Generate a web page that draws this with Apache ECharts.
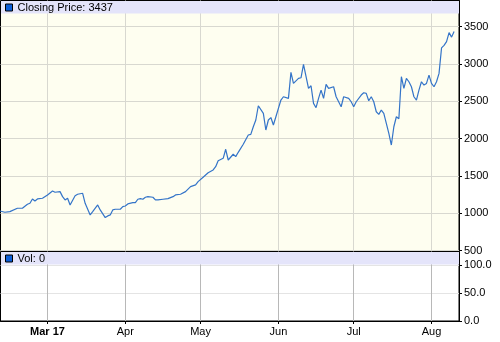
<!DOCTYPE html>
<html><head><meta charset="utf-8">
<script src="https://cdn.jsdelivr.net/npm/echarts@6.0.0/dist/echarts.min.js"></script>
<style>html,body{margin:0;padding:0;background:#fff}#c{width:500px;height:342px}</style>
</head><body><div id="c"></div>
<script>
const dates = [
'2017-02-10','2017-02-12','2017-02-14','2017-02-17','2017-02-19','2017-02-21','2017-02-22','2017-02-23','2017-02-24','2017-02-25','2017-02-27',
'2017-03-01','2017-03-03','2017-03-04','2017-03-06','2017-03-07','2017-03-08','2017-03-09','2017-03-10','2017-03-12','2017-03-13','2017-03-15','2017-03-16','2017-03-18','2017-03-19','2017-03-21','2017-03-22','2017-03-24','2017-03-25','2017-03-26','2017-03-27','2017-03-28','2017-03-30','2017-03-31',
'2017-04-01','2017-04-02','2017-04-04','2017-04-05','2017-04-06','2017-04-07','2017-04-08','2017-04-09','2017-04-10','2017-04-12','2017-04-13','2017-04-14','2017-04-16','2017-04-18','2017-04-20','2017-04-21','2017-04-23','2017-04-25','2017-04-27','2017-04-29','2017-04-30',
'2017-05-02','2017-05-04','2017-05-06','2017-05-07','2017-05-08','2017-05-10','2017-05-11','2017-05-12','2017-05-14','2017-05-15','2017-05-16','2017-05-18','2017-05-20','2017-05-21','2017-05-22','2017-05-23','2017-05-24','2017-05-26','2017-05-27','2017-05-28','2017-05-29','2017-05-30','2017-05-31',
'2017-06-01','2017-06-02','2017-06-03','2017-06-05','2017-06-06','2017-06-07','2017-06-09','2017-06-10','2017-06-11','2017-06-13','2017-06-14','2017-06-15','2017-06-16','2017-06-17','2017-06-18','2017-06-19','2017-06-20','2017-06-21','2017-06-23','2017-06-24','2017-06-26','2017-06-27','2017-06-29','2017-06-30',
'2017-07-01','2017-07-02','2017-07-04','2017-07-05','2017-07-06','2017-07-07','2017-07-08','2017-07-09','2017-07-10','2017-07-11','2017-07-12','2017-07-13','2017-07-14','2017-07-15','2017-07-16','2017-07-17','2017-07-18','2017-07-19','2017-07-20','2017-07-21','2017-07-22','2017-07-23','2017-07-24','2017-07-25','2017-07-26','2017-07-27','2017-07-28','2017-07-29','2017-07-30','2017-07-31',
'2017-08-01','2017-08-02','2017-08-03','2017-08-04','2017-08-05','2017-08-06','2017-08-07','2017-08-08','2017-08-09','2017-08-10'
];
const prices = [
1030,1013,1021,1066,1066,1120,1133,1191,1164,1191,1200,
1245,1298,1281,1289,1222,1178,1200,1111,1235,1254,1267,1133,977,1021,1111,1044,941,964,977,1044,1053,1053,1088,
1097,1124,1141,1141,1187,1195,1187,1214,1222,1214,1178,1178,1187,1195,1222,1245,1254,1289,1356,1379,1423,
1482,1543,1580,1624,1704,1736,1857,1713,1790,1758,1816,1924,2048,2057,2159,2249,2440,2338,2115,2249,2282,2182,2293,
2405,2517,2561,2539,2887,2740,2807,2815,2995,2673,2708,2472,2414,2539,2650,2539,2727,2673,2695,2561,2427,2561,2539,2494,
2427,2494,2584,2614,2606,2507,2561,2494,2360,2325,2383,2338,2205,2071,1914,2159,2293,2265,2829,2673,2807,2762,2695,2561,2517,2650,2762,2718,2740,2851,
2740,2695,2762,2874,3215,3250,3300,3420,3360,3437
];
const lastVolume = 0;
const monthTickDates = ['2017-03-01','2017-04-01','2017-05-01','2017-06-01','2017-07-01','2017-08-01'];
const monthTickLabels = ['Mar 17','Apr','May','Jun','Jul','Aug'];
const priceTicks = [500,1000,1500,2000,2500,3000,3500];
const volumeTicks = [0,50,100];

const ts = s => Date.parse(s + 'T00:00:00Z');
const xMin = Date.parse('2017-02-10T06:30:00Z');
const xMax = Date.parse('2017-08-11T23:00:00Z');
const monthTicks = monthTickDates.map(ts);
const priceData = dates.map((d, i) => [ts(d), prices[i]]);
const lastPrice = prices[prices.length - 1];

const FONT = 'Liberation Sans';
const chart = echarts.init(document.getElementById('c'), null, {renderer: 'canvas'});
chart.setOption({
  animation: false,
  backgroundColor: '#ffffff',
  textStyle: {fontFamily: FONT},
  grid: [
    {left: 0.5, top: 0.5, width: 458.5, height: 250, show: true, backgroundColor: '#fefef0', borderColor: '#000', borderWidth: 1},
    {left: 0.5, top: 251.5, width: 458.5, height: 69.5, show: true, backgroundColor: '#ffffff', borderColor: '#000', borderWidth: 1}
  ],
  graphic: [
    {type: 'rect', shape: {x: 1, y: 1, width: 458, height: 12.5}, style: {fill: '#e4e4fa'}, z: 1},
    {type: 'rect', shape: {x: 1, y: 252, width: 458, height: 12.5}, style: {fill: '#e4e4fa'}, z: 1}
  ],
  legend: [
    {left: 5, top: 2, padding: 0, itemWidth: 7, itemHeight: 7, itemGap: 5, icon: 'rect', data: ['Closing Price'],
     itemStyle: {color: '#0c5ed8', borderColor: '#000', borderWidth: 1},
     textStyle: {fontFamily: FONT, fontSize: 11, color: '#000', padding: [1,0,0,0]},
     formatter: () => 'Closing Price: ' + lastPrice},
    {left: 5, top: 253, padding: 0, itemWidth: 7, itemHeight: 7, itemGap: 5, icon: 'rect', data: ['Vol'],
     itemStyle: {color: '#0c5ed8', borderColor: '#000', borderWidth: 1},
     textStyle: {fontFamily: FONT, fontSize: 11, color: '#000', padding: [1,0,0,0]},
     formatter: () => 'Vol: ' + lastVolume}
  ],
  xAxis: [
    {type: 'value', gridIndex: 0, min: xMin, max: xMax,
     axisLine: {show: false}, axisTick: {show: false, customValues: monthTicks}, axisLabel: {show: false, customValues: monthTicks},
     splitLine: {show: true, lineStyle: {color: '#d8d8d0', width: 1}}},
    {type: 'value', gridIndex: 1, min: xMin, max: xMax,
     axisLine: {show: true, lineStyle: {color: '#000', width: 1}},
     axisTick: {show: true, length: 3, customValues: monthTicks, lineStyle: {color: '#000'}},
     axisLabel: {show: true, customValues: monthTicks, margin: 5, fontSize: 11, fontFamily: FONT, color: '#000',
       formatter: v => { const i = monthTicks.indexOf(v); const l = i >= 0 ? monthTickLabels[i] : ''; return i === 0 ? '{b|' + l + '}' : l; },
       rich: {b: {fontWeight: 'bold', fontSize: 11, fontFamily: FONT, color: '#000'}}},
     splitLine: {show: true, lineStyle: {color: '#b8b8b8', width: 1}}}
  ],
  yAxis: [
    {type: 'value', gridIndex: 0, position: 'right', min: 500, max: 3851,
     axisLine: {show: true, lineStyle: {color: '#000'}},
     axisTick: {show: true, length: 3, customValues: priceTicks, lineStyle: {color: '#000'}},
     axisLabel: {show: true, customValues: priceTicks, margin: 5, fontSize: 11, fontFamily: FONT, color: '#000', formatter: v => String(v)},
     splitLine: {show: true, lineStyle: {color: '#d8d8d0'}}},
    {type: 'value', gridIndex: 1, position: 'right', min: 0, max: 124,
     axisLine: {show: true, lineStyle: {color: '#000'}},
     axisTick: {show: true, length: 3, customValues: volumeTicks, lineStyle: {color: '#000'}},
     axisLabel: {show: true, customValues: volumeTicks, margin: 5, fontSize: 11, fontFamily: FONT, color: '#000', formatter: v => v.toFixed(1)},
     splitLine: {show: true, lineStyle: {color: '#e4e4e4'}}}
  ],
  series: [
    {name: 'Closing Price', type: 'line', xAxisIndex: 0, yAxisIndex: 0, data: priceData, symbol: 'none', clip: true,
     lineStyle: {color: '#3474c8', width: 1.2}, itemStyle: {color: '#0c5ed8'}, z: 5},
    {name: 'Vol', type: 'bar', xAxisIndex: 1, yAxisIndex: 1, data: [], itemStyle: {color: '#0c5ed8'}}
  ]
});
</script></body></html>
